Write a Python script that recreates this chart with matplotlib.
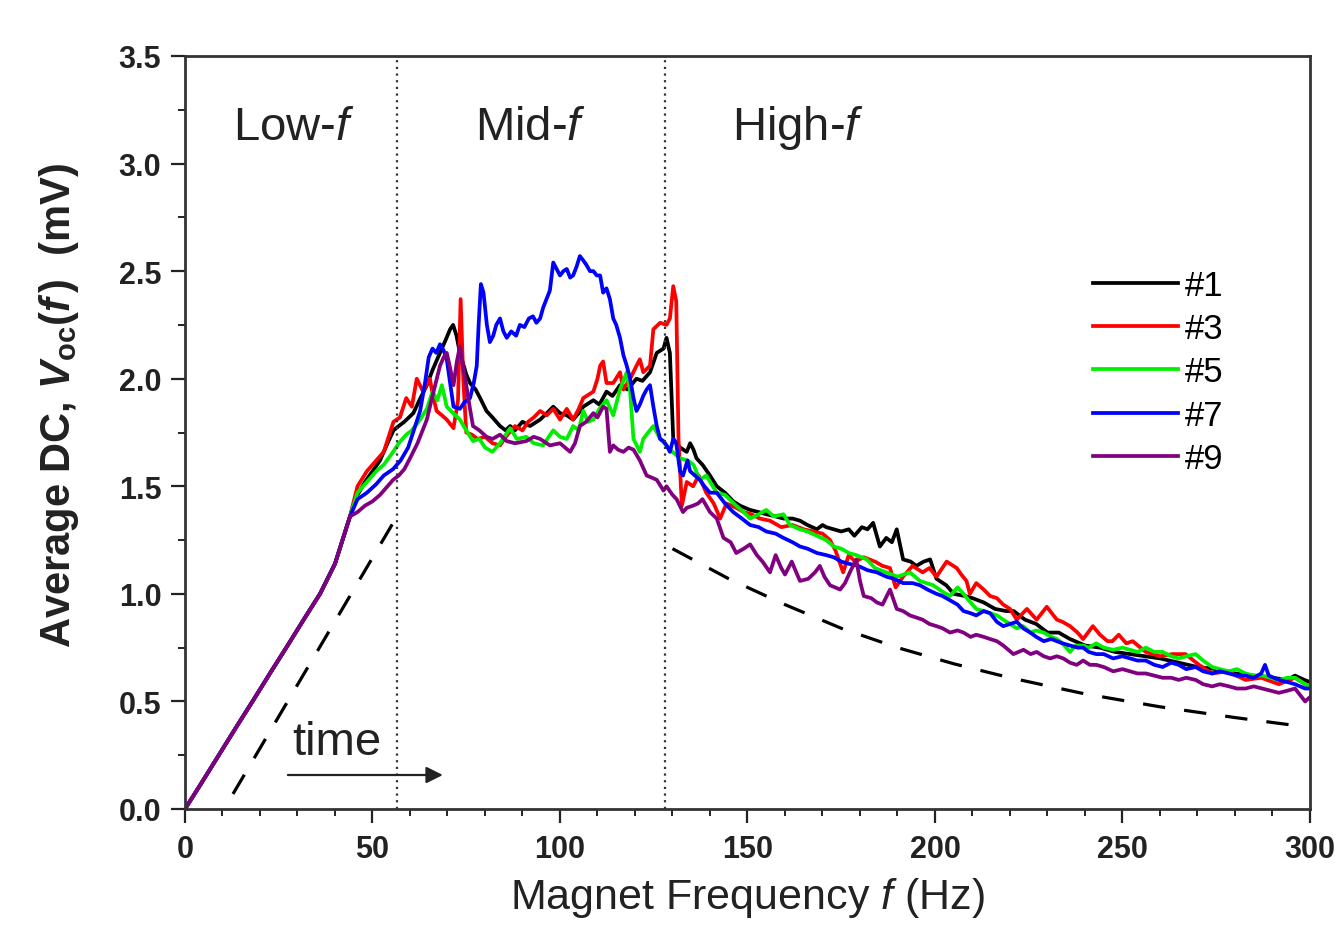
import numpy as np
import matplotlib
matplotlib.use("Agg")
import matplotlib.pyplot as plt
from matplotlib.ticker import MultipleLocator

plt.rcParams['font.family'] = ['Liberation Sans', 'DejaVu Sans']
plt.rcParams['mathtext.fontset'] = 'custom'
plt.rcParams['mathtext.rm'] = 'Liberation Sans'
plt.rcParams['mathtext.it'] = 'Liberation Sans:italic'
plt.rcParams['mathtext.bf'] = 'Liberation Sans:bold'
plt.rcParams['mathtext.bfit'] = 'Liberation Sans:italic:bold'

# shared rising part (all samples overlap below ~44 Hz)
f_common = [0, 4, 9, 14, 18, 23, 27, 32, 36, 40, 44]
v_common = [0.0, 0.11, 0.25, 0.39, 0.5, 0.64, 0.75, 0.89, 1.0, 1.14, 1.36]

# sample #1 (f, V)
s1 = [(46,1.46),(48,1.52),(50,1.57),(52,1.62),(54,1.70),(55.6,1.76),(57,1.78),(58.5,1.80),(60.9,1.84),
      (62.5,1.90),(64.5,1.97),(66,2.04),(67,2.08),(68,2.12),(69.5,2.18),(70.7,2.23),(71.5,2.25),(72.4,2.20),
      (73.3,2.12),(74,2.08),(75,2.02),(76,1.98),(77.5,1.95),(78.7,1.91),(80.4,1.85),(82,1.82),(84,1.78),
      (85.5,1.76),(86.7,1.78),(88,1.76),(90,1.80),(92,1.78),(94.7,1.81),(96.5,1.84),(98.2,1.87),(100,1.84),
      (101.8,1.83),(103.5,1.81),(105,1.84),(106.2,1.87),(108.9,1.90),(110.5,1.88),(112.4,1.94),(114,1.92),
      (116,1.97),(118,1.95),(120.4,2.0),(122,1.99),(124,2.03),(125.8,2.12),(127.6,2.14),(128.4,2.19),
      (129.3,2.12),(130.2,1.72),(131,1.70),(132,1.68),(133.8,1.66),(134.7,1.70),(135.6,1.67),(136.4,1.63),
      (138,1.60),(140,1.55),(141.8,1.50),(144,1.47),(146.2,1.43),(148,1.41),(150.7,1.39),(153,1.38),
      (155,1.37),(157.5,1.36),(159.6,1.35),(162,1.35),(164,1.34),(166,1.32),(168.5,1.30),(170,1.32),
      (171,1.31),(173,1.30),(175,1.29),(177,1.30),(178.5,1.27),(180.5,1.31),(182,1.30),(183.5,1.33),
      (185.3,1.22),(187,1.26),(188.5,1.24),(189.8,1.30),(191.5,1.16),(193.5,1.15),(195,1.13),(197,1.15),
      (198.7,1.16),(200.4,1.07),(203,1.04),(205,1.0),(208,0.99),(210,0.98),(213,0.96),(216,0.93),(219,0.92),
      (221,0.92),(224,0.88),(227,0.86),(230,0.82),(233,0.82),(236,0.79),(240,0.76),(244,0.75),(248,0.73),
      (252,0.72),(256,0.71),(260,0.70),(265,0.68),(270,0.66),(275,0.65),(280,0.63),(285,0.62),(290,0.61),
      (294,0.60),(296,0.62),(298.5,0.60),(300,0.59)]

s3 = [(46,1.50),(48.5,1.57),(51,1.62),(53,1.66),(55.6,1.80),(57.3,1.82),(59,1.91),(60.5,1.87),(61.8,2.0),
      (63.5,1.94),(65.3,2.0),(66,1.93),(67.1,1.85),(68.5,1.83),(69.8,1.81),(71.6,1.77),(72.8,1.9),(73.5,2.37),
      (74.2,2.0),(75,1.75),(76.5,1.74),(78,1.72),(80,1.73),(82,1.7),(84,1.69),(86,1.74),(88,1.78),(90,1.76),
      (91.5,1.8),(93,1.82),(94.7,1.85),(96.5,1.83),(98.2,1.86),(100,1.81),(101.8,1.86),(103.5,1.81),(105,1.86),
      (106.2,1.91),(108.9,1.94),(110,2.0),(110.7,2.06),(111.5,2.08),(112.4,1.98),(114.2,1.98),(116,2.03),
      (116.9,1.95),(118.7,2.0),(120.4,2.06),(121.3,2.09),(122.2,2.03),(124,2.06),(124.9,2.23),(126.7,2.26),
      (128.4,2.25),(129.3,2.28),(130.2,2.43),(131,2.36),(131.6,1.72),(132.5,1.41),(133.8,1.52),(135.5,1.50),
      (137,1.55),(139,1.47),(141,1.42),(142.7,1.35),(144.4,1.42),(147,1.40),(149,1.38),(151,1.37),(153.3,1.35),
      (156,1.34),(159,1.31),(162,1.32),(165,1.30),(167.5,1.29),(170,1.28),(172,1.25),(173.5,1.20),(175.5,1.10),
      (177,1.18),(178.7,1.15),(181,1.17),(184,1.15),(186,1.13),(188,1.12),(189.5,1.03),(191.5,1.08),(194,1.13),
      (196.7,1.10),(198.5,1.12),(200.4,1.08),(203.1,1.15),(205.8,1.12),(207,1.09),(208.4,1.06),(209.3,1.0),
      (211,1.05),(213,1.02),(214.7,0.99),(216.5,0.98),(218.2,0.95),(220,0.93),(221.8,0.88),(224.5,0.93),
      (227.1,0.88),(229.8,0.94),(232.5,0.88),(234,0.87),(236,0.85),(238,0.82),(239.5,0.79),(242.1,0.85),
      (244,0.81),(246,0.78),(247.3,0.78),(249,0.81),(251,0.77),(252.7,0.78),(256.2,0.73),(260,0.71),
      (263.3,0.72),(266.8,0.72),(270.4,0.67),(273.9,0.63),(278,0.64),(282.8,0.6),(287,0.61),(291.7,0.58),
      (296,0.61),(298.7,0.58),(300,0.57)]

s5 = [(46,1.47),(48.5,1.52),(51,1.57),(53,1.6),(55.5,1.66),(57,1.70),(59,1.74),(60.5,1.76),(62.7,1.81),
      (64.5,1.86),(66,1.94),(67.3,1.90),(68.5,1.97),(69.8,1.87),(71.5,1.84),(73.3,1.81),(75,1.76),(76.8,1.71),
      (78.5,1.72),(80,1.68),(82,1.66),(84,1.70),(86.7,1.77),(88.5,1.72),(91,1.73),(93,1.70),(95.5,1.69),
      (97,1.73),(98.2,1.76),(100,1.73),(101.8,1.72),(103.5,1.78),(105,1.76),(106.2,1.85),(107.5,1.80),
      (108.9,1.81),(110.5,1.86),(112.4,1.9),(114.2,1.83),(116,1.95),(117.8,2.03),(118.7,1.94),(119.6,1.72),
      (121.3,1.66),(122.2,1.72),(123.5,1.75),(124.9,1.78),(126.7,1.72),(128.4,1.69),(130,1.66),(132,1.63),
      (134,1.62),(135.6,1.60),(137.3,1.53),(139,1.55),(141.8,1.47),(144,1.46),(147,1.41),(149,1.38),
      (150.7,1.35),(153,1.37),(155,1.39),(157,1.36),(159.6,1.37),(161.3,1.32),(164,1.30),(166,1.29),
      (168.5,1.27),(171,1.25),(173,1.22),(175,1.21),(177,1.19),(179,1.18),(181.8,1.16),(184,1.12),(187,1.10),
      (190,1.08),(193.3,1.10),(196,1.06),(199.5,1.04),(202,1.01),(204,0.99),(206,1.03),(207.6,1.0),(209,0.97),
      (211,0.93),(213,0.92),(214.7,0.91),(216.5,0.90),(218.2,0.88),(220,0.86),(221.8,0.84),(223.5,0.85),
      (225.4,0.82),(227,0.83),(229,0.82),(231,0.80),(232.5,0.79),(234,0.77),(236,0.73),(237.5,0.76),
      (239.5,0.76),(241,0.75),(243,0.77),(245,0.75),(247.5,0.74),(250,0.75),(252,0.74),(254,0.73),
      (256.2,0.75),(258.5,0.73),(260.7,0.73),(263,0.71),(265,0.70),(267,0.71),(269.5,0.72),(271.5,0.69),
      (273.9,0.66),(276,0.65),(278.4,0.64),(280.5,0.65),(282.8,0.63),(285,0.62),(287.3,0.62),(289.5,0.61),
      (291.7,0.60),(294,0.61),(296,0.61),(298.7,0.58),(300,0.57)]

s7 = [(46,1.44),(48.5,1.47),(51,1.51),(53,1.55),(55.5,1.58),(57.5,1.62),(59.5,1.68),(61,1.76),(62.7,1.85),
      (64,1.98),(65,2.1),(66,2.14),(67,2.12),(68,2.16),(69,2.13),(69.8,2.09),(70.7,1.98),(71.6,1.87),
      (73.3,1.86),(74.5,1.89),(76,1.91),(77,1.98),(77.8,2.06),(78.3,2.25),(78.9,2.44),(79.6,2.40),(80.5,2.25),
      (81.3,2.17),(82.2,2.2),(83,2.25),(84,2.28),(84.9,2.22),(85.8,2.19),(87,2.22),(88.3,2.2),(89.3,2.25),
      (90.5,2.24),(91.7,2.28),(92.8,2.29),(93.7,2.26),(94.7,2.28),(95.5,2.33),(96.4,2.37),(97.3,2.41),
      (98.2,2.54),(99.1,2.51),(100,2.48),(100.9,2.5),(101.8,2.51),(102.7,2.47),(103.5,2.48),(104.4,2.52),
      (105.3,2.57),(106.2,2.55),(107,2.53),(108,2.5),(108.9,2.5),(109.8,2.48),(110.7,2.48),(111.5,2.4),
      (112.4,2.42),(113.3,2.37),(114.2,2.28),(115,2.25),(116,2.19),(116.9,2.11),(117.8,2.06),(118.7,2.0),
      (119.6,1.91),(120.4,1.85),(121.3,1.88),(122.2,1.92),(123.1,1.95),(124,1.97),(124.9,1.87),(125.8,1.78),
      (126.7,1.72),(127.6,1.71),(128.4,1.69),(129.3,1.66),(130.2,1.72),(131,1.70),(132,1.57),(132.8,1.55),
      (134,1.62),(134.7,1.57),(136,1.55),(137.3,1.53),(138.5,1.50),(140,1.47),(141.8,1.47),(144,1.42),
      (146.2,1.38),(148.5,1.35),(150.7,1.32),(153,1.31),(155,1.29),(157.5,1.28),(159.6,1.26),(162,1.24),
      (164,1.22),(166,1.21),(168.5,1.19),(171,1.18),(173,1.17),(175,1.15),(177,1.14),(179.5,1.13),(182,1.11),
      (184.5,1.10),(187,1.08),(189,1.07),(191.5,1.05),(194,1.05),(196,1.04),(198,1.02),(200.4,1.0),(202,0.99),
      (204,0.97),(206,0.95),(207.6,0.92),(209.5,0.91),(211,0.90),(213,0.92),(214.7,0.91),(216.5,0.87),
      (218.2,0.85),(220,0.86),(221.8,0.87),(223.5,0.84),(225.4,0.82),(227,0.80),(229,0.78),(231,0.79),
      (232.5,0.78),(234,0.77),(236,0.76),(238,0.75),(239.5,0.75),(241,0.73),(243,0.72),(245,0.72),
      (247.5,0.70),(250,0.71),(252,0.70),(254,0.69),(256.2,0.69),(258.5,0.67),(260.7,0.66),(263,0.68),
      (265,0.67),(267,0.65),(269.5,0.66),(271.5,0.64),(273.9,0.63),(276,0.64),(278.4,0.63),(280.5,0.62),
      (282.8,0.62),(285,0.61),(287,0.63),(288,0.67),(289,0.62),(291.7,0.60),(294,0.59),(296,0.58),
      (298.7,0.56),(300,0.56)]

s9 = [(46,1.38),(48,1.41),(50,1.43),(52,1.46),(55.5,1.53),(57,1.55),(58.5,1.58),(60,1.63),(62,1.70),
      (64.5,1.81),(66,1.92),(68,2.06),(69,2.1),(69.8,2.12),(70.7,2.05),(71.6,1.97),(72.5,2.08),(73.3,2.15),
      (74.2,2.05),(75,1.97),(76,1.86),(76.8,1.78),(78.5,1.76),(80.4,1.73),(82,1.72),(84,1.74),(85.8,1.71),
      (88,1.70),(91,1.71),(93,1.73),(94.7,1.72),(97.3,1.69),(100,1.70),(102.7,1.66),(104,1.70),(105.3,1.78),
      (107,1.80),(108.9,1.84),(110,1.82),(111.5,1.87),(112.4,1.86),(113.3,1.66),(114.2,1.69),(115.5,1.67),
      (116.9,1.66),(118.3,1.68),(119.6,1.67),(121.3,1.62),(123.1,1.55),(124.5,1.54),(125.8,1.53),(127.6,1.48),
      (128.4,1.50),(130,1.46),(131.1,1.44),(132.8,1.38),(133.8,1.40),(135.5,1.41),(136.8,1.42),(138,1.44),
      (140,1.38),(141.8,1.35),(143.6,1.26),(145.5,1.24),(147,1.19),(149,1.21),(150.7,1.23),(152.5,1.18),
      (154,1.15),(156,1.10),(157.5,1.18),(159,1.12),(160,1.09),(161.8,1.15),(163,1.10),(164,1.06),
      (166.2,1.07),(168,1.10),(169.3,1.13),(170.5,1.08),(172,1.04),(174.7,1.02),(176,1.05),(177.3,1.10),
      (179,1.16),(180,1.06),(181,0.99),(183,0.98),(184.5,0.96),(186,0.95),(188,1.02),(189.8,0.93),
      (191.5,0.92),(193.3,0.90),(195,0.89),(196.7,0.88),(198.5,0.86),(200.4,0.85),(202,0.84),(204,0.82),
      (206,0.83),(207.6,0.82),(209.5,0.80),(211,0.81),(213,0.80),(214.7,0.79),(216.5,0.78),(218.2,0.76),
      (220.9,0.72),(223.6,0.74),(225.5,0.72),(227.1,0.73),(229,0.71),(230.7,0.70),(232.5,0.71),(234.2,0.70),
      (236,0.68),(237.8,0.67),(239.5,0.69),(241.3,0.67),(243,0.67),(245,0.66),(247.5,0.64),(250,0.65),
      (252,0.64),(254,0.63),(256.2,0.63),(258.5,0.62),(260.7,0.61),(263,0.61),(265,0.60),(267,0.61),
      (269.5,0.60),(271.5,0.58),(273.9,0.57),(276,0.58),(278.4,0.57),(280.5,0.56),(282.8,0.56),(285,0.57),
      (287.3,0.56),(289.5,0.55),(291.7,0.54),(294,0.55),(296,0.56),(298.7,0.50),(300,0.52)]

labels = ['#1', '#3', '#5', '#7', '#9']
colors = ['black', '#ff0000', '#00ee00', '#0000ff', '#800080']
samples = [s1, s3, s5, s7, s9]

# dashed guide lines
guide_low_f = [12.8, 55.5]
guide_low_v = [0.07, 1.33]
guide_high_f = [130, 145, 160, 175, 190, 205, 220, 240, 260, 280, 297]
guide_high_v = [1.21, 1.07, 0.95, 0.84, 0.75, 0.675, 0.61, 0.535, 0.475, 0.425, 0.386]

region_bounds = [56.5, 128]

fig = plt.figure(figsize=(13.43, 9.28), dpi=100)
ax = fig.add_axes([185/1343, 1-810/928, 1125/1343, 753/928])

for pts, c, lab in zip(samples, colors, labels):
    f = f_common + [p[0] for p in pts]
    v = v_common + [p[1] for p in pts]
    ax.plot(f, v, color=c, lw=2.7, label=lab, solid_joinstyle='round')

ax.plot(guide_low_f, guide_low_v, color='black', lw=2.3, linestyle=(0, (7, 6)))
ax.plot(guide_high_f, guide_high_v, color='black', lw=2.3, linestyle=(0, (7, 6)))

for xb in region_bounds:
    ax.axvline(xb, color='#333333', lw=1.6, linestyle=(0, (1, 2)))

ax.text(12.8, 3.17, 'Low-$f$', fontsize=34, va='center', ha='left', color='#222222')
ax.text(77.3, 3.17, 'Mid-$f$', fontsize=34, va='center', ha='left', color='#222222')
ax.text(145.9, 3.17, 'High-$f$', fontsize=34, va='center', ha='left', color='#222222')
ax.text(28.5, 0.31, 'time', fontsize=34, va='center', ha='left', color='#222222')
ax.annotate('', xy=(69.5, 0.158), xytext=(26.7, 0.158),
            arrowprops=dict(arrowstyle='-|>', color='#222222', lw=1.6, mutation_scale=25))

ax.set_xlim(0, 300)
ax.set_ylim(0, 3.5)
ax.xaxis.set_major_locator(MultipleLocator(50))
ax.xaxis.set_minor_locator(MultipleLocator(10))
ax.yaxis.set_major_locator(MultipleLocator(0.5))
ax.yaxis.set_minor_locator(MultipleLocator(0.25))
ax.yaxis.set_major_formatter(matplotlib.ticker.FormatStrFormatter('%.1f'))
ax.tick_params(which='major', direction='out', length=10, width=1.6, colors='#222222')
ax.tick_params(which='minor', direction='out', length=5, width=1.4, colors='#222222')
ax.tick_params(axis='x', which='major', pad=8)
ax.tick_params(axis='y', which='major', pad=7)
for lbl in ax.get_xticklabels() + ax.get_yticklabels():
    lbl.set_fontsize(22)
    lbl.set_fontweight('bold')
for sp in ax.spines.values():
    sp.set_linewidth(2)
    sp.set_color('#333333')

ax.set_xlabel('Magnet Frequency $f$ (Hz)', fontsize=31, color='#222222')
ax.xaxis.set_label_coords(0.5, -0.088)
ax.set_ylabel(r'Average DC, $\mathbfit{V}_{\mathbf{oc}}\mathbf{(}\mathbfit{f}\,\mathbf{)}$  (mV)',
              fontsize=30, fontweight='bold', color='#222222')
ax.yaxis.set_label_coords(-0.092, 0.537)

ax.legend(loc='center left', bbox_to_anchor=((1093-185)/1125, (810-373)/753), frameon=False,
          fontsize=25, handlelength=2.45, handletextpad=0.2, labelspacing=0.3,
          borderpad=0, borderaxespad=0)

fig.savefig('out.png', dpi=100)
